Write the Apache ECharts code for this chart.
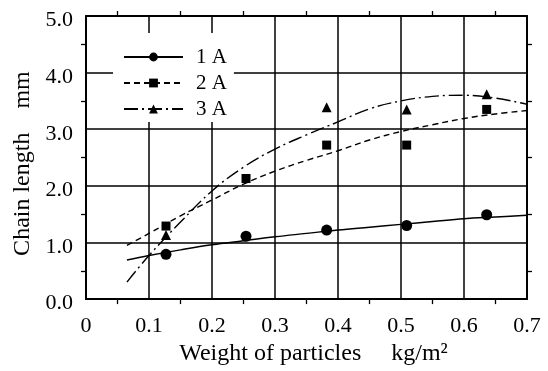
<!DOCTYPE html>
<html>
<head>
<meta charset="utf-8">
<script src="https://cdn.jsdelivr.net/npm/echarts@6/dist/echarts.min.js"></script>
<style>html,body{margin:0;padding:0;background:#fff}#c{width:548px;height:371px}</style>
</head>
<body>
<div id="c"></div>
<script>
// measured points
var ptX1 = [0.127, 0.254, 0.382, 0.509, 0.636];
var ptY1 = [0.79, 1.11, 1.22, 1.30, 1.49];
var ptX2 = [0.127, 0.254, 0.382, 0.509, 0.636];
var ptY2 = [1.29, 2.13, 2.72, 2.72, 3.35];
var ptX3 = [0.127, 0.382, 0.509, 0.636];
var ptY3 = [1.13, 3.39, 3.35, 3.62];
// fitted curves
var curveX = [0.065, 0.1, 0.15, 0.2, 0.25, 0.3, 0.35, 0.4, 0.45, 0.5, 0.55, 0.6, 0.65, 0.7];
var fit1 = [0.69, 0.77, 0.87, 0.96, 1.03, 1.10, 1.16, 1.22, 1.27, 1.32, 1.37, 1.42, 1.45, 1.48];
var fit2 = [0.95, 1.16, 1.47, 1.75, 2.03, 2.26, 2.45, 2.62, 2.81, 2.96, 3.08, 3.19, 3.27, 3.33];
var fit3 = [0.30, 0.77, 1.36, 1.91, 2.33, 2.65, 2.90, 3.13, 3.36, 3.50, 3.58, 3.60, 3.55, 3.44];
var seriesNames = ['1 A', '2 A', '3 A'];
var xTickLabels = ['0', '0.1', '0.2', '0.3', '0.4', '0.5', '0.6', '0.7'];
var yTickLabels = ['0.0', '1.0', '2.0', '3.0', '4.0', '5.0'];
var xTitle = 'Weight of particles     kg/m\u00B2';
var yTitle = 'Chain length    mm';

function pairs(xs, ys) { return xs.map(function (x, i) { return [x, ys[i]]; }); }
var FONT = 'Liberation Serif';
var chart = echarts.init(document.getElementById('c'), null, { renderer: 'canvas' });

function mainAxisCommon() {
  return {
    axisLine: { show: true, onZero: false, lineStyle: { color: '#000', width: 2 } },
    axisTick: { show: false },
    minorTick: { show: true, splitNumber: 2, length: 5, lineStyle: { color: '#000', width: 1.3 } },
    splitLine: { show: true, lineStyle: { color: '#000', width: 1.5 } }
  };
}
var xMain = Object.assign(mainAxisCommon(), {
  type: 'value', min: 0, max: 0.7, interval: 0.1, position: 'bottom',
  axisLabel: { fontFamily: FONT, fontSize: 22, color: '#000', margin: 16,
    formatter: function (v, i) { return xTickLabels[Math.round(v * 10)]; } },
  name: xTitle, nameLocation: 'middle', nameGap: 39,
  nameTextStyle: { fontFamily: FONT, fontSize: 24, color: '#000', padding: [0, 0, 0, 14] }
});
var xTop = Object.assign(mainAxisCommon(), {
  type: 'value', min: 0, max: 0.7, interval: 0.1, position: 'top',
  axisLabel: { show: false }, splitLine: { show: false }
});
var yMain = Object.assign(mainAxisCommon(), {
  type: 'value', min: 0, max: 5, interval: 1, position: 'left',
  axisLabel: { fontFamily: FONT, fontSize: 22, color: '#000', margin: 13,
    formatter: function (v, i) { return '{t|' + yTickLabels[Math.round(v)] + '}'; },
    rich: { t: { fontFamily: FONT, fontSize: 22, color: '#000', padding: [9, 0, 0, 0] } } },
  name: yTitle, nameLocation: 'middle', nameGap: 48, nameRotate: 90,
  nameTextStyle: { fontFamily: FONT, fontSize: 24, color: '#000', padding: [0, 12, 0, 0] }
});
var yRight = Object.assign(mainAxisCommon(), {
  type: 'value', min: 0, max: 5, interval: 1, position: 'right',
  axisLabel: { show: false }, splitLine: { show: false }
});

var symbols = ['circle', 'rect', 'triangle'];
var symSizes = [11, 9, 10];
var dashes = ['solid', [6, 4], [14, 4, 2, 4]];
var fits = [fit1, fit2, fit3];
var pts = [pairs(ptX1, ptY1), pairs(ptX2, ptY2), pairs(ptX3, ptY3)];

var series = [];
for (var k = 0; k < 3; k++) {
  series.push({
    name: seriesNames[k], type: 'line', smooth: 0.4, showSymbol: false,
    symbol: symbols[k], symbolSize: symSizes[k],
    data: pairs(curveX, fits[k]),
    lineStyle: { color: '#000', width: 1.4, type: dashes[k] },
    itemStyle: { color: '#000' }, z: 3, silent: true
  });
}
for (var k2 = 0; k2 < 3; k2++) {
  series.push({
    name: seriesNames[k2], type: 'scatter', symbol: symbols[k2], symbolSize: symSizes[k2],
    data: pts[k2], itemStyle: { color: '#000', opacity: 1 }, z: 4
  });
}

chart.setOption({
  animation: false,
  backgroundColor: '#fff',
  grid: { left: 86, right: 21, top: 16, bottom: 63, containLabel: false },
  xAxis: [xMain, xTop],
  yAxis: [yMain, yRight],
  legend: {
    data: seriesNames, orient: 'vertical', left: 113, top: 33,
    backgroundColor: '#fff', padding: [11, 7, 0, 10],
    itemWidth: 59, itemHeight: 11, itemGap: 0,
    textStyle: { fontFamily: FONT, fontSize: 21, color: '#000', lineHeight: 26, padding: [0, 0, 0, 8] },
    selectedMode: false
  },
  series: series
});
</script>
</body>
</html>
